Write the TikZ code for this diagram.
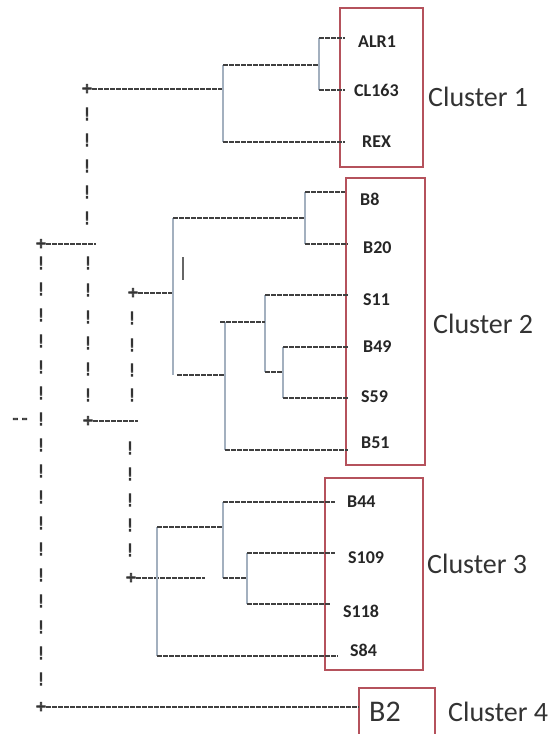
\documentclass[tikz,border=0pt]{standalone}
\usepackage{fontspec}
\setmainfont{Carlito}
\newfontfamily\glyphfont[FakeBold=4]{DejaVu Sans Mono}
\definecolor{dashgrey}{HTML}{404040}
\definecolor{stemblue}{HTML}{A3B0BF}
\definecolor{boxred}{HTML}{B5525C}
\tikzset{
  hline/.style={draw=dashgrey, line width=2pt, dash pattern=on 4.5pt off 1.5pt},
  vline/.style={draw=stemblue, line width=1.5pt},
  glyph/.style={inner sep=0pt, text=black!80, font=\glyphfont\fontsize{17}{17}\selectfont},
  leaf/.style={inner sep=0pt, anchor=west, text=black!85, font=\bfseries\fontsize{18}{18}\selectfont},
  clabel/.style={inner sep=0pt, anchor=west, text=black!80, font=\fontsize{28}{28}\selectfont},
  clbox/.style={draw=boxred, line width=1.5pt, inner sep=0pt},
}
\begin{document}
\begin{tikzpicture}[x=1pt, y=-1pt]
\useasboundingbox (0,0) rectangle (557,734);

% ---- cluster boxes and their names
\node[clbox, minimum width=83pt, minimum height=159pt] (box1) at (381.5,87.5) {};
\node[clbox, minimum width=79pt, minimum height=287pt] (box2) at (385.5,321.5) {};
\node[clbox, minimum width=98pt, minimum height=192pt] (box3) at (374,574) {};
\begin{scope}
  \clip (0,0) rectangle (557,734);
  \coordinate (b4l) at (359,740);
  \coordinate (b4r) at (435,740);
  \draw[boxred, line width=1.5pt] (b4l) |- (435,688) -- (b4r);
\end{scope}
\node[clabel] (c1) at (428,97) {Cluster 1};
\node[clabel] (c2) at (433,324) {Cluster 2};
\node[clabel] (c3) at (427,564) {Cluster 3};
\node[clabel] (c4) at (448,712) {Cluster 4};
\node[clabel, font=\fontsize{30}{30}\selectfont] (B2) at (369,712) {B2};

% ---- leaf labels
\node[leaf] (ALR1)  at (358,42)  {ALR1};
\node[leaf] (CL163) at (354,90)  {CL163};
\node[leaf] (REX)   at (362,142) {REX};
\node[leaf] (B8)    at (360,199) {B8};
\node[leaf] (B20)   at (363,248) {B20};
\node[leaf] (S11)   at (363,300) {S11};
\node[leaf] (B49)   at (363,347) {B49};
\node[leaf] (S59)   at (361,397) {S59};
\node[leaf] (B51)   at (361,443) {B51};
\node[leaf] (B44)   at (347,502) {B44};
\node[leaf] (S109)  at (348,558) {S109};
\node[leaf] (S118)  at (343,611) {S118};
\node[leaf] (S84)   at (350,650) {S84};

% ---- text-style root: plus signs and exclamation columns
\node[glyph] (p1) at (87,89)  {+};
\node[glyph] (p2) at (41,244) {+};
\node[glyph] (p3) at (88,421) {+};
\node[glyph] (p4) at (133,293) {+};
\node[glyph] (p5) at (131,578) {+};
\node[glyph] (p6) at (41,707) {+};
\foreach \y in {114,140,166,192,218} \node[glyph] at (87,\y) {!};
\foreach \k in {0,...,16} \node[glyph] at (41,263+26*\k) {!};
\foreach \y in {263,290,317,343,369,395} \node[glyph] at (88,\y) {!};
\foreach \y in {318,345,370,395} \node[glyph] at (132,\y) {!};
\foreach \y in {448,474,500,525,550} \node[glyph] at (130,\y) {!};
\node[glyph] (dd) at (20,421) {-\kern-1pt-};

\coordinate (p1e) at (223,89);
\coordinate (p2e) at (96,244);
\coordinate (p3e) at (138,421);
\coordinate (p4e) at (173,293);
\coordinate (p5e) at (205,578);
\coordinate (p6e) at (359,707);
\draw[hline] (p1.east) -- (p1e);
\draw[hline] (p2.east) -- (p2e);
\draw[hline] (p3.east) -- (p3e);
\draw[hline] (p4.east) -- (p4e);
\draw[hline] (p5.east) -- (p5e);
\draw[hline] (p6.east) -- (p6e);

% ---- cluster 1
\coordinate (k1) at (319,38);  \coordinate (k1e) at (345,38);
\coordinate (k2) at (319,90);  \coordinate (k2e) at (345,90);
\coordinate (k3) at (319,65);
\coordinate (n1) at (223,65);
\coordinate (r1) at (223,142); \coordinate (r1e) at (345,142);
\draw[vline] (k1) -- (k2);
\draw[vline] (n1) -- (r1);
\draw[hline] (k1) -- (k1e);
\draw[hline] (k2) -- (k2e);
\draw[hline] (n1) -- (k3);
\draw[hline] (r1) -- (r1e);

% ---- cluster 2
\coordinate (t2) at (173,218);
\coordinate (u2) at (173,375);
\coordinate (g1) at (305,192); \coordinate (g1e) at (345,192);
\coordinate (g2) at (305,244); \coordinate (g2e) at (348,244);
\coordinate (g3) at (305,218);
\coordinate (m1) at (225,322);
\coordinate (m2) at (225,450); \coordinate (m2e) at (348,450);
\coordinate (m3) at (225,375);
\coordinate (m0) at (177,375);
\coordinate (q0) at (220,322);
\coordinate (q1) at (265,295); \coordinate (q1e) at (348,295);
\coordinate (q2) at (265,372);
\coordinate (q3) at (265,322);
\coordinate (s1) at (283,347); \coordinate (s1e) at (348,347);
\coordinate (s2) at (283,398); \coordinate (s2e) at (348,398);
\coordinate (s3) at (283,372);
\coordinate (bar1) at (183,257); \coordinate (bar2) at (183,280);
\draw[vline] (t2) -- (u2);
\draw[vline] (g1) -- (g2);
\draw[vline] (m1) -- (m2);
\draw[vline] (q1) -- (q2);
\draw[vline] (s1) -- (s2);
\draw[hline] (t2) -- (g3);
\draw[hline] (g1) -- (g1e);
\draw[hline] (g2) -- (g2e);
\draw[hline] (m0) -- (m3);
\draw[hline] (q0) -- (q3);
\draw[hline] (q1) -- (q1e);
\draw[hline] (q2) -- (s3);
\draw[hline] (s1) -- (s1e);
\draw[hline] (s2) -- (s2e);
\draw[hline] (m2) -- (m2e);
\draw[draw=dashgrey!80, line width=2pt] (bar1) -- (bar2);

% ---- cluster 3
\coordinate (h1) at (223,502); \coordinate (h1e) at (335,502);
\coordinate (h2) at (223,578);
\coordinate (h3) at (223,527);
\coordinate (w1) at (247,553); \coordinate (w1e) at (335,553);
\coordinate (w2) at (247,604); \coordinate (w2e) at (331,604);
\coordinate (w3) at (247,578);
\coordinate (v1) at (157,527);
\coordinate (v2) at (157,656); \coordinate (v2e) at (338,656);
\draw[vline] (h1) -- (h2);
\draw[vline] (w1) -- (w2);
\draw[vline] (v1) -- (v2);
\draw[hline] (h1) -- (h1e);
\draw[hline] (v1) -- (h3);
\draw[hline] (h2) -- (w3);
\draw[hline] (w1) -- (w1e);
\draw[hline] (w2) -- (w2e);
\draw[hline] (v2) -- (v2e);
\end{tikzpicture}
\end{document}
